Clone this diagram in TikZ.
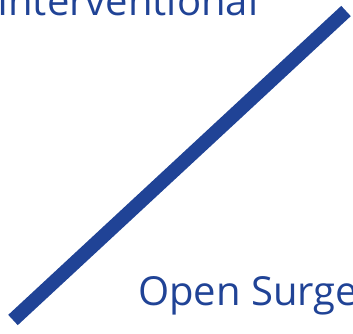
\documentclass[tikz,border=0pt]{standalone}
\usepackage{fontspec}
\setmainfont{Open Sans}
\definecolor{geblue}{RGB}{32,67,150}
\begin{document}
\begin{tikzpicture}[x=1pt,y=1pt,
  lbl/.style={inner sep=0pt,anchor=base west,text=geblue,font=\fontsize{40}{40}\selectfont}]
\useasboundingbox (0,0) rectangle (353,333);
\clip (0,0) rectangle (353,333);
\coordinate (lo) at (13,13);
\coordinate (hi) at (346,322);
\draw[geblue,line width=14pt] (lo) -- (hi);
\node[lbl] (iv) at (-3,318) {Interventional};
\node[lbl] (os) at (138,28) {Open Surgery};
\end{tikzpicture}
\end{document}
